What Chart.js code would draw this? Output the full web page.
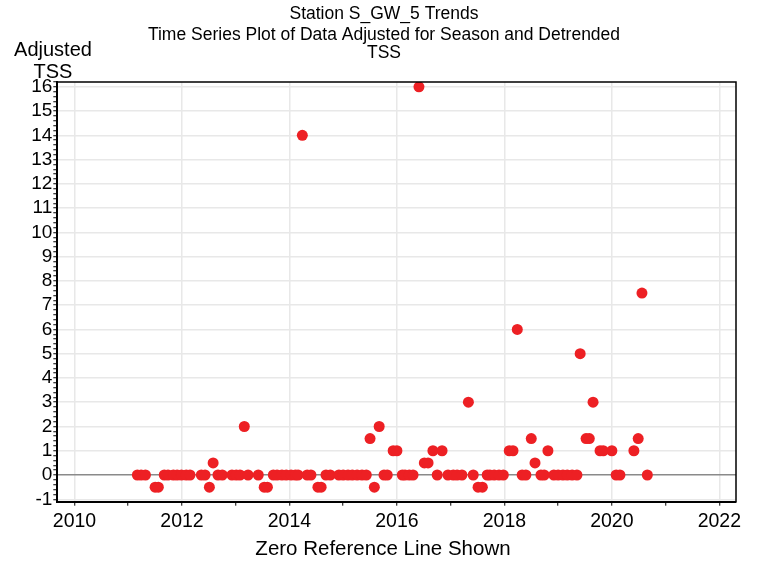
<!DOCTYPE html>
<html>
<head>
<meta charset="utf-8">
<script src="https://cdn.jsdelivr.net/npm/chart.js@4.4.1/dist/chart.umd.min.js"></script>
<style>
  body { margin: 0; background: #fff; }
  canvas { display: block; }
</style>
</head>
<body>
<canvas id="chart" width="759" height="567"></canvas>
<script>
// sample dates (decimal years)
const sampleYears = [
  2011.17, 2011.24, 2011.32, 2011.50, 2011.56, 2011.67, 2011.74, 2011.84, 2011.91, 2011.99,
  2012.08, 2012.15, 2012.36, 2012.43, 2012.51, 2012.58, 2012.67, 2012.75, 2012.93, 2013.01,
  2013.08, 2013.16, 2013.23, 2013.42, 2013.53, 2013.59, 2013.70, 2013.77, 2013.86, 2013.94,
  2014.03, 2014.11, 2014.16, 2014.24, 2014.33, 2014.40, 2014.53, 2014.59, 2014.68, 2014.76,
  2014.92, 2015.00, 2015.09, 2015.17, 2015.26, 2015.35, 2015.43, 2015.50, 2015.58, 2015.67,
  2015.76, 2015.82, 2015.93, 2016.00, 2016.10, 2016.15, 2016.23, 2016.30, 2016.41, 2016.51,
  2016.58, 2016.67, 2016.75, 2016.84, 2016.95, 2017.05, 2017.12, 2017.21, 2017.33, 2017.42,
  2017.51, 2017.59, 2017.68, 2017.73, 2017.81, 2017.90, 2017.98, 2018.09, 2018.16, 2018.24,
  2018.33, 2018.40, 2018.50, 2018.57, 2018.68, 2018.74, 2018.81, 2018.92, 2019.00, 2019.09,
  2019.17, 2019.26, 2019.35, 2019.41, 2019.52, 2019.58, 2019.65, 2019.78, 2019.84, 2020.00,
  2020.08, 2020.15, 2020.41, 2020.49, 2020.56, 2020.66
];

// adjusted TSS, same order
const adjustedTss = [
  0, 0, 0, -0.5, -0.5, 0, 0, 0, 0, 0,
  0, 0, 0, 0, -0.5, 0.5, 0, 0, 0, 0,
  0, 2, 0, 0, -0.5, -0.5, 0, 0, 0, 0,
  0, 0, 0, 14, 0, 0, -0.5, -0.5, 0, 0,
  0, 0, 0, 0, 0, 0, 0, 1.5, -0.5, 2,
  0, 0, 1, 1, 0, 0, 0, 0, 16, 0.5,
  0.5, 1, 0, 1, 0, 0, 0, 0, 3, 0,
  -0.5, -0.5, 0, 0, 0, 0, 0, 1, 1, 6,
  0, 0, 1.5, 0.5, 0, 0, 1, 0, 0, 0,
  0, 0, 0, 5, 1.5, 1.5, 3, 1, 1, 1,
  0, 0, 1, 1.5, 7.5, 0
];

const yearTicks = [2010, 2012, 2014, 2016, 2018, 2020, 2022];

const titleLines = ["Station S_GW_5 Trends", "Time Series Plot of Data Adjusted for Season and Detrended", "TSS"];
const yTitleLines = ["Adjusted", "TSS"];
const xTitle = "Zero Reference Line Shown";

const FONT = "'Liberation Sans', Arial, Helvetica, sans-serif";
const isWhole = v => Math.abs(v - Math.round(v)) < 1e-6;

// titles, axis titles and the box round the plot
const textPlugin = {
  id: "texts",
  afterDraw(chart) {
    const ctx = chart.ctx;
    const a = chart.chartArea;
    ctx.save();
    ctx.strokeStyle = "#000";
    ctx.lineWidth = 1.5;
    ctx.beginPath();
    ctx.moveTo(a.left, a.top);
    ctx.lineTo(a.right, a.top);
    ctx.lineTo(a.right, a.bottom);
    ctx.stroke();

    ctx.fillStyle = "#000";
    ctx.textAlign = "center";
    ctx.textBaseline = "middle";
    ctx.font = "17.5px " + FONT;
    ctx.fillText(titleLines[0], 384, 14);
    ctx.font = "17.5px " + FONT;
    ctx.fillText(titleLines[1], 384, 35);
    ctx.fillText(titleLines[2], 384, 53);

    ctx.font = "20px " + FONT;
    ctx.fillText(yTitleLines[0], 53, 50);
    ctx.fillText(yTitleLines[1], 53, 72);
    ctx.font = "20.5px " + FONT;
    ctx.fillText(xTitle, 383, 549);
    ctx.restore();
  }
};

new Chart(document.getElementById("chart"), {
  type: "scatter",
  data: {
    datasets: [{
      data: sampleYears.map((x, i) => ({ x: x, y: adjustedTss[i] })),
      backgroundColor: "rgb(237,32,36)",
      borderWidth: 0,
      pointRadius: 5.5,
      pointHoverRadius: 5.5
    }]
  },
  options: {
    responsive: false,
    animation: false,
    layout: { padding: { top: 82, right: 23, left: 0, bottom: 0 } },
    plugins: {
      legend: { display: false },
      tooltip: { enabled: false }
    },
    scales: {
      x: {
        type: "linear",
        min: 2009.68,
        max: 2022.31,
        afterFit(s) { s.height = 65.3; },
        ticks: {
          stepSize: 1,
          includeBounds: false,
          autoSkip: false,
          maxRotation: 0,
          padding: 4,
          color: "#000",
          font: { family: FONT, size: 19.5 },
          callback: v => yearTicks.includes(Math.round(v)) && isWhole(v) ? String(Math.round(v)) : ""
        },
        grid: {
          color: c => (c.tick && yearTicks.includes(Math.round(c.tick.value))) ? "#e8e8e8" : "rgba(0,0,0,0)",
          lineWidth: 1.5,
          tickColor: "#000",
          tickLength: 4,
          tickWidth: 1
        },
        border: { display: true, color: "#000", width: 2 }
      },
      y: {
        min: -1.1,
        max: 16.2,
        afterFit(s) { s.width = 57.3; },
        ticks: {
          stepSize: 0.2,
          includeBounds: false,
          autoSkip: false,
          padding: 1,
          color: "#000",
          font: { family: FONT, size: 19 },
          callback: v => isWhole(v) ? String(Math.round(v)) : ""
        },
        grid: {
          color: c => {
            if (!c.tick || !isWhole(c.tick.value)) return "rgba(0,0,0,0)";
            return Math.round(c.tick.value) === 0 ? "#8a8a8a" : "#e8e8e8";
          },
          lineWidth: c => (c.tick && Math.abs(c.tick.value) < 1e-6) ? 1.6 : 1.5,
          tickColor: "#000",
          tickLength: 4,
          tickWidth: 1
        },
        border: { display: true, color: "#000", width: 2 }
      }
    }
  },
  plugins: [textPlugin]
});
</script>
</body>
</html>
